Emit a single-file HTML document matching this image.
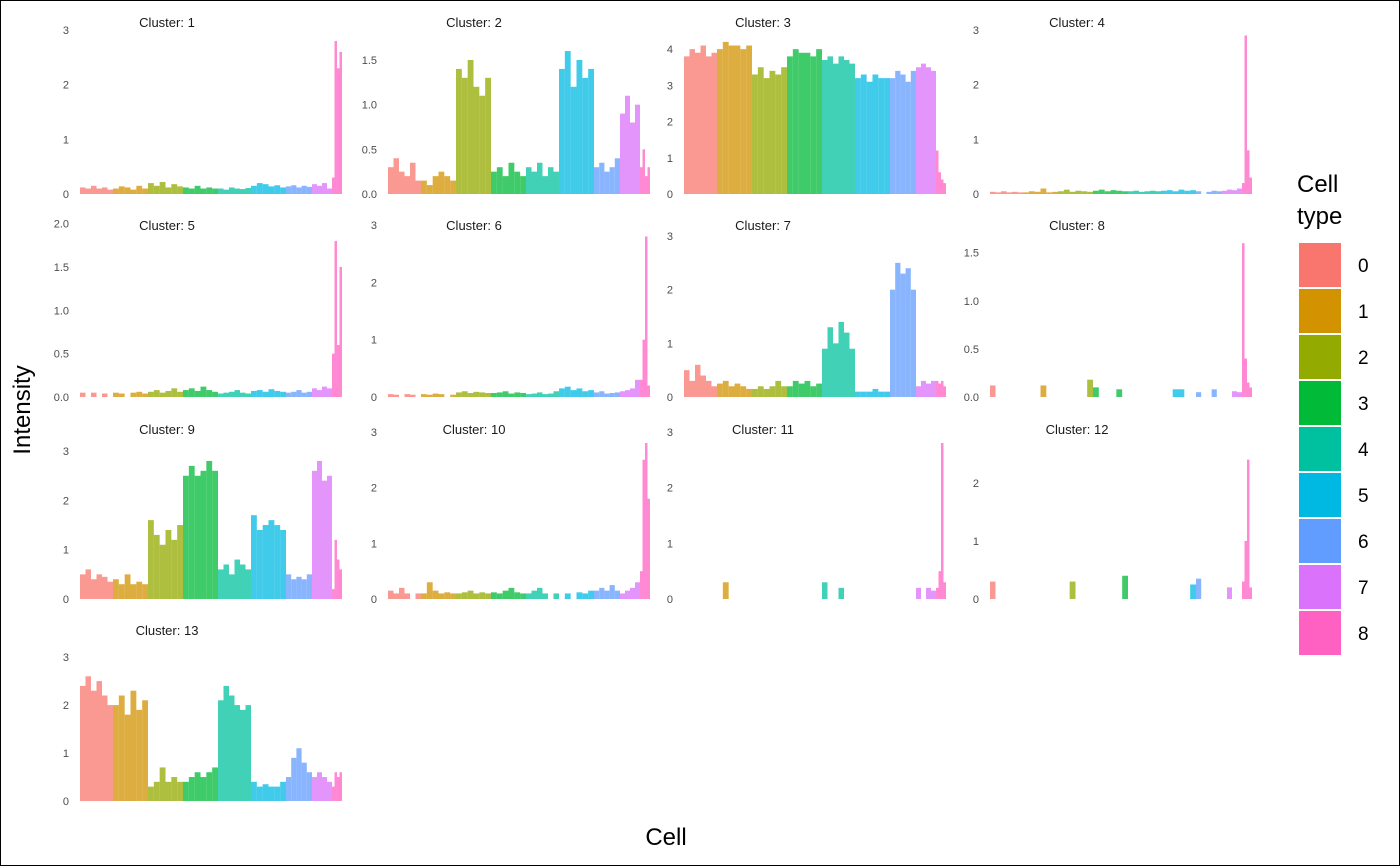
<!DOCTYPE html>
<html><head><meta charset="utf-8"><style>
body{margin:0;background:#fff}
svg{display:block;font-family:"Liberation Sans",Arial,sans-serif}
</style></head><body>
<svg id="chart" width="1400" height="866" viewBox="0 0 1400 866">
<rect x="0.5" y="0.5" width="1399" height="865" fill="#fff" stroke="#000"/>
<g id="panels"></g>
<text x="30" y="410" font-size="24" text-anchor="middle" transform="rotate(-90 30 410)" fill="#000">Intensity</text>
<text x="666" y="845" font-size="24" text-anchor="middle" fill="#000">Cell</text>
<g id="legend">
<text x="1297" y="192" font-size="24">Cell</text>
<text x="1297" y="224" font-size="24">type</text>
</g>
</svg>
<script>
const cellTypes=["0","1","2","3","4","5","6","7","8"];
const typeColors=["#F8766D","#D39200","#93AA00","#00BA38","#00C19F","#00B9E3","#619CFF","#DB72FB","#FF61C3"];
const typeCellCounts=[33,35,35,35,33,35,26,20,10];
const clusterNames=["1","2","3","4","5","6","7","8","9","10","11","12","13"];
const clusterYMax=[3.22,1.97,4.86,3.22,2.03,3.07,3.28,1.83,3.57,3.16,3.16,3.03,3.67];
const clusterTicks=[[0,1,2,3],[0,0.5,1,1.5],[0,1,2,3,4],[0,1,2,3],[0,0.5,1,1.5,2],[0,1,2,3],[0,1,2,3],[0,0.5,1,1.5],[0,1,2,3],[0,1,2,3],[0,1,2,3],[0,1,2],[0,1,2,3]];
const clusterTickLabels=[["0","1","2","3"],["0.0","0.5","1.0","1.5"],["0","1","2","3","4"],["0","1","2","3"],["0.0","0.5","1.0","1.5","2.0"],["0","1","2","3"],["0","1","2","3"],["0.0","0.5","1.0","1.5"],["0","1","2","3"],["0","1","2","3"],["0","1","2","3"],["0","1","2"],["0","1","2","3"]];
const c1=[[0.12,0.1,0.15,0.1,0.12,0.08],[0.1,0.14,0.12,0.08,0.15,0.1],[0.2,0.15,0.22,0.12,0.18,0.14],[0.12,0.1,0.15,0.1,0.12,0.1],[0.1,0.08,0.12,0.1,0.09,0.11],[0.15,0.2,0.18,0.14,0.16,0.12],[0.14,0.16,0.12,0.15,0.13],[0.18,0.15,0.2,0.1],[0.3,2.8,2.3,2.6]];
const c2=[[0.3,0.4,0.25,0.2,0.35,0.15],[0.15,0.1,0.2,0.25,0.2,0.15],[1.4,1.3,1.5,1.2,1.1,1.3],[0.25,0.3,0.2,0.35,0.25,0.2],[0.3,0.25,0.35,0.2,0.3,0.25],[1.4,1.6,1.2,1.5,1.3,1.4],[0.3,0.35,0.25,0.3,0.4],[0.9,1.1,0.8,1.0],[0.3,0.5,0.2,0.3]];
const c3=[[3.8,4.0,3.9,4.1,3.8,3.9],[4.0,4.2,4.1,4.1,4.0,4.1],[3.3,3.5,3.2,3.4,3.3,3.5],[3.8,4.0,3.9,3.9,3.8,4.0],[3.7,3.8,3.6,3.8,3.7,3.6],[3.2,3.3,3.1,3.3,3.2,3.2],[3.2,3.4,3.3,3.1,3.4],[3.5,3.6,3.5,3.4],[1.2,0.6,0.4,0.3]];
const c4=[[0.04,0.03,0.05,0.03,0.04,0.03],[0.03,0.05,0.04,0.1,0.03,0.04],[0.05,0.08,0.04,0.06,0.05,0.04],[0.06,0.08,0.05,0.07,0.06,0.05],[0.05,0.06,0.04,0.05,0.06,0.05],[0.06,0.07,0.05,0.08,0.06,0.07],[0.05,0,0.04,0.06,0.05],[0.06,0.08,0.07,0.1],[0.2,2.9,0.8,0.3]];
const c5=[[0.05,0,0.05,0,0.04,0],[0.05,0.04,0,0.05,0.06,0.04],[0.06,0.08,0.05,0.07,0.1,0.06],[0.08,0.1,0.07,0.12,0.08,0.06],[0.04,0.05,0.06,0.08,0.05,0.04],[0.07,0.08,0.06,0.09,0.07,0.06],[0.05,0.06,0.08,0.05,0.06],[0.1,0.08,0.12,0.1],[0.5,1.8,0.6,1.5]];
const c6=[[0.05,0.04,0,0.05,0.04,0],[0.05,0.04,0.06,0.05,0,0.04],[0.08,0.1,0.07,0.09,0.08,0.07],[0.07,0.08,0.1,0.06,0.08,0.07],[0.05,0.06,0.08,0.05,0.06,0.1],[0.15,0.18,0.12,0.15,0.1,0.12],[0.08,0.1,0.06,0.07,0.08],[0.1,0.12,0.15,0.3],[0.3,1.0,2.8,0.2]];
const c7=[[0.5,0.3,0.6,0.4,0.3,0.2],[0.25,0.3,0.2,0.25,0.2,0.15],[0.15,0.2,0.15,0.2,0.3,0.2],[0.2,0.3,0.25,0.3,0.2,0.25],[0.9,1.3,1.0,1.4,1.2,0.9],[0.1,0.1,0.1,0.15,0.1,0.1],[2.0,2.5,2.3,2.4,2.0],[0.2,0.3,0.25,0.3],[0.3,0.25,0.3,0.2]];
const c8=[[0.12,0,0,0,0,0],[0,0,0,0.12,0,0],[0,0,0,0,0,0.18],[0.1,0,0,0,0.08,0],[0,0,0,0,0,0],[0,0,0.08,0.08,0,0],[0.05,0,0,0.08,0],[0,0,0.06,0.05],[1.6,0.4,0.15,0.1]];
const c9=[[0.5,0.6,0.4,0.5,0.45,0.35],[0.4,0.3,0.5,0.3,0.35,0.3],[1.6,1.3,1.1,1.4,1.2,1.5],[2.5,2.7,2.5,2.6,2.8,2.6],[0.6,0.7,0.5,0.8,0.7,0.6],[1.7,1.4,1.5,1.6,1.5,1.4],[0.5,0.4,0.45,0.4,0.5],[2.6,2.8,2.4,2.5],[0.2,1.2,0.8,0.6]];
const c10=[[0.15,0.1,0.2,0.1,0,0.1],[0.1,0.3,0.15,0.1,0.12,0.1],[0.1,0.12,0.15,0.1,0.12,0.1],[0.12,0.1,0.15,0.2,0.12,0.1],[0.1,0.15,0.2,0.1,0,0.1],[0,0.1,0,0.12,0.1,0.15],[0.15,0.2,0.15,0.25,0.15],[0.1,0.15,0.2,0.3],[0.5,2.5,2.8,1.8]];
const c11=[[0,0,0,0,0,0],[0,0.3,0,0,0,0],[0,0,0,0,0,0],[0,0,0,0,0,0],[0.3,0,0,0.2,0,0],[0,0,0,0,0,0],[0,0,0,0,0],[0.2,0,0.2,0.15],[0.2,0.5,2.8,0.3]];
const c12=[[0.3,0,0,0,0,0],[0,0,0,0,0,0],[0,0,0.3,0,0,0],[0,0,0,0,0,0.4],[0,0,0,0,0,0],[0,0,0,0,0,0.25],[0.35,0,0,0,0],[0,0.2,0,0],[0.3,1.0,2.4,0.2]];
const c13=[[2.4,2.6,2.3,2.5,2.2,2.0],[2.0,2.2,1.8,2.3,1.9,2.1],[0.3,0.4,0.7,0.4,0.5,0.4],[0.4,0.5,0.6,0.5,0.6,0.7],[2.1,2.4,2.2,2.0,1.9,2.0],[0.4,0.3,0.35,0.3,0.3,0.4],[0.5,0.9,1.1,0.8,0.6],[0.5,0.6,0.5,0.4],[0.3,0.6,0.5,0.6]];
const clusterValues=[c1,c2,c3,c4,c5,c6,c7,c8,c9,c10,c11,c12,c13];

const NS="http://www.w3.org/2000/svg";
const colX=[80,388,684,990], titleX=[167,474,763,1077];
const rowBottom=[194,397,599,801], titleY=[27,230,434,635];
const PW=262, PH=176;
function mk(tag,attrs,parent){const e=document.createElementNS(NS,tag);for(const k in attrs)e.setAttribute(k,attrs[k]);parent.appendChild(e);return e;}
const totalCells=typeCellCounts.reduce((a,b)=>a+b,0);
const panelsG=document.getElementById('panels');
clusterNames.forEach((name,ci)=>{
  const col=ci%4,row=Math.floor(ci/4);
  const x0=colX[col],y0=rowBottom[row],ymax=clusterYMax[ci];
  const xs=c=>x0+c/totalCells*PW;
  const ys=v=>y0-v/ymax*PH;
  const g=mk('g',{},panelsG);
  
  
  const t=mk('text',{x:titleX[col],y:titleY[row],'font-size':13,'text-anchor':'middle',fill:'#1a1a1a'},g);
  t.textContent='Cluster: '+name;
  
  
  clusterTicks[ci].forEach((tv,ti)=>{
    const tl=mk('text',{x:x0-11,y:ys(tv)+4,'font-size':11,'text-anchor':'end',fill:'#4d4d4d'},g);
    tl.textContent=clusterTickLabels[ci][ti];
    
    
  });
  let cellStart=0;
  clusterValues[ci].forEach((vals,ti)=>{
    const n=typeCellCounts[ti];
    vals.forEach((v,vi)=>{
      if(v<=0)return;
      const a=cellStart+n*vi/vals.length,b=cellStart+n*(vi+1)/vals.length;
      const r=mk('rect',{x:xs(a),y:ys(v),width:Math.max(0.8,xs(b)-xs(a)),height:y0-ys(v),fill:typeColors[ti],'fill-opacity':0.75},g);
      
      
    });
    cellStart+=n;
  });
});
const lg=document.getElementById('legend');
cellTypes.forEach((ct,i)=>{
  const y=243+i*46;
  const r=mk('rect',{x:1299,y:y,width:42,height:44,fill:typeColors[i]},lg);
  
  
  const t=mk('text',{x:1358,y:y+29,'font-size':19,fill:'#000'},lg);
  t.textContent=ct;
  
  
});
</script>
</body></html>
